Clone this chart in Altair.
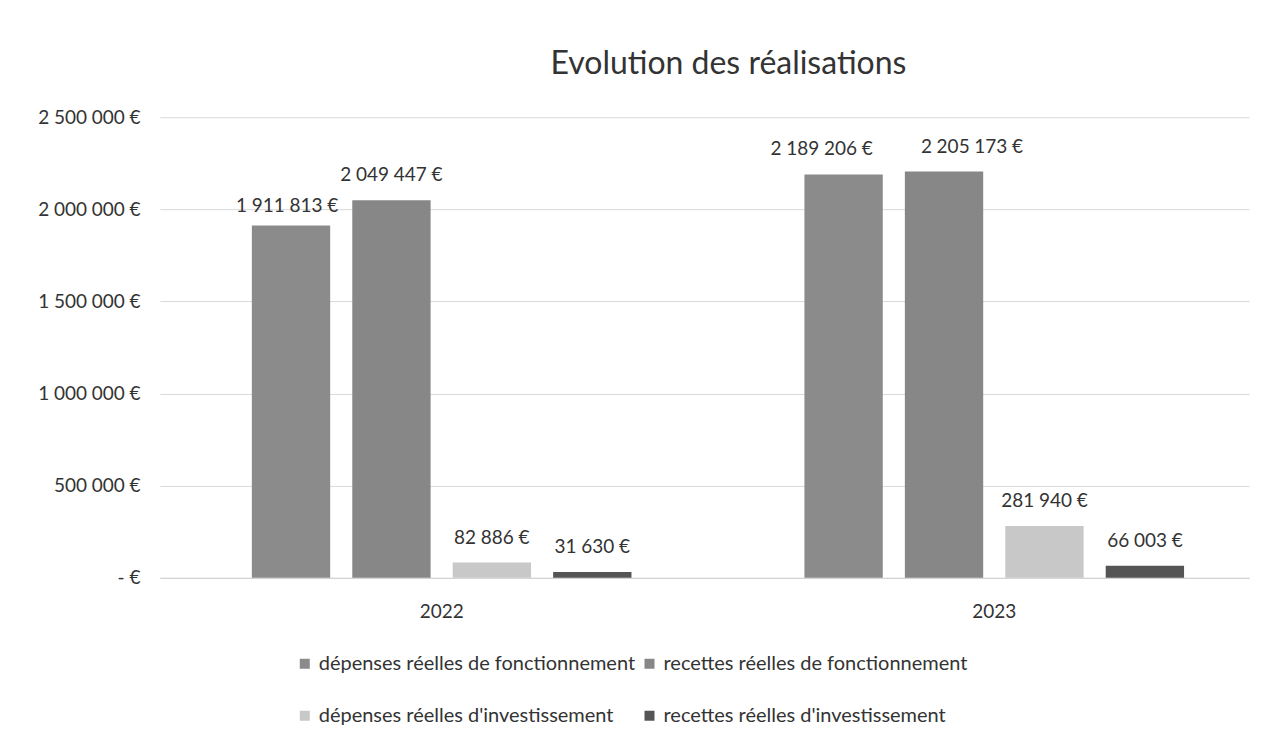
import altair as alt
import pandas as pd

years = ["2022", "2023"]
series = [
    "dépenses réelles de fonctionnement",
    "recettes réelles de fonctionnement",
    "dépenses réelles d'investissement",
    "recettes réelles d'investissement",
]
values_2022 = [1911813, 2049447, 82886, 31630]
values_2023 = [2189206, 2205173, 281940, 66003]
colors = ["#8b8b8b", "#878787", "#c8c8c8", "#555555"]
y_ticks = [0, 500000, 1000000, 1500000, 2000000, 2500000]

rows = []
for yr, vals in zip(years, [values_2022, values_2023]):
    for s, v in zip(series, vals):
        rows.append({"annee": yr, "serie": s, "valeur": v})
df = pd.DataFrame(rows)

FONT = "Lato"

base = alt.Chart(df).encode(
    x=alt.X("annee:N", title=None, sort=years,
            scale=alt.Scale(paddingInner=0.313, paddingOuter=0.142, align=0.586),
            axis=alt.Axis(labelAngle=0, labelFontSize=19, labelColor="#333333",
                          labelFont=FONT, ticks=False, domain=True,
                          domainColor="#d0d0d0", labelPadding=25)),
    xOffset=alt.XOffset("serie:N", sort=series,
                        scale=alt.Scale(paddingInner=0.22, paddingOuter=0)),
    y=alt.Y("valeur:Q", title=None,
            scale=alt.Scale(domain=[0, 2500000], nice=False),
            axis=alt.Axis(values=y_ticks, format="$,.0f", labelFontSize=19,
                          labelColor="#333333", labelFont=FONT, ticks=False,
                          domain=False, gridColor="#d9d9d9", labelPadding=20,
                          labelExpr="datum.value == 0 ? '-     €' : datum.label")),
)

bars = base.mark_bar().encode(
    color=alt.Color("serie:N", sort=series,
                    scale=alt.Scale(domain=series, range=colors),
                    legend=alt.Legend(title=None, orient="none", legendX=135, legendY=537,
                                      columns=2, direction="horizontal",
                                      labelFontSize=20, labelFont=FONT,
                                      labelColor="#333333", symbolType="square",
                                      symbolSize=100, symbolStrokeWidth=0,
                                      rowPadding=32, columnPadding=4,
                                      labelLimit=500)),
)

text_props = dict(fontSize=19, font=FONT, color="#333333", baseline="bottom")
text_enc = dict(text=alt.Text("valeur:Q", format="$,.0f"))

is_a = f"datum.annee == '2023' && datum.serie == '{series[0]}'"
is_b = f"datum.annee == '2023' && datum.serie == '{series[1]}'"
is_c = f"datum.annee == '2022' && datum.serie == '{series[0]}'"

labels_main = base.mark_text(dy=-15, **text_props).encode(**text_enc).transform_filter(
    f"!({is_a}) && !({is_b}) && !({is_c})")
labels_a = base.mark_text(dy=-15, dx=-22, **text_props).encode(**text_enc).transform_filter(is_a)
labels_b = base.mark_text(dy=-15, dx=28, **text_props).encode(**text_enc).transform_filter(is_b)
labels_c = base.mark_text(dy=-10, dx=-4, **text_props).encode(**text_enc).transform_filter(is_c)

chart = (bars + labels_main + labels_a + labels_b + labels_c).properties(
    width=1090,
    height=461,
    title=alt.Title("Evolution des réalisations", fontSize=32, font=FONT,
                    fontWeight="normal", color="#333333", dx=24, offset=27),
    autosize=alt.AutoSizeParams(type="none"),
    padding={"left": 152, "top": 109, "right": 30, "bottom": 160},
).configure(
    locale={"number": {"decimal": ",", "thousands": "\u202f", "grouping": [3],
                       "currency": ["", "\u202f€"]}}
).configure_view(stroke=None)

chart.save("out.html", embed_options={"renderer": "svg", "actions": False})
